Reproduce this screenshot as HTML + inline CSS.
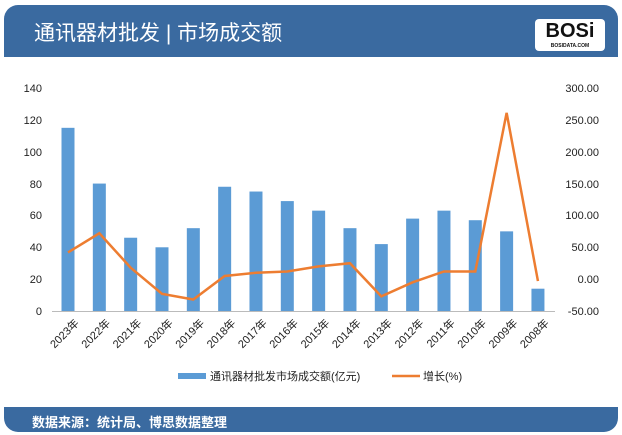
<!DOCTYPE html>
<html><head><meta charset="utf-8"><style>
body{margin:0;width:622px;height:435px;background:#fff;overflow:hidden;font-family:"Liberation Sans","Noto Sans CJK SC",sans-serif}
.card{position:absolute;left:4px;top:5px;width:614px;height:427px;border-radius:14px;background:#3a6aa0;overflow:hidden}
.inner{position:absolute;left:0;top:52px;width:614px;height:350px;background:#fff}
.t{position:absolute;left:30px;top:12px;color:#fff;font-size:21px}
.f{position:absolute;left:28px;top:407px;color:#fff;font-size:13px;font-weight:bold}
.logo{position:absolute;left:531px;top:14px;width:70px;height:32px;background:#fff;border-radius:4px;font-weight:bold;font-size:20px;text-align:center;line-height:24px;color:#111}
.logo span{display:block;font-size:5px;line-height:6px}
</style></head><body>
<div class="card"><div class="inner"></div>
<div class="t">通讯器材批发 | 市场成交额</div>
<div class="logo">BOSi<span>BOSIDATA.COM</span></div>
<div class="f">数据来源：统计局、博思数据整理</div></div>
<svg width="622" height="435" style="position:absolute;left:0;top:0" font-family="Liberation Sans, Noto Sans CJK SC, sans-serif">
<g font-size="11" fill="#222" text-anchor="end">
<text x="42" y="315">0</text><text x="42" y="283">20</text><text x="42" y="251">40</text><text x="42" y="219">60</text><text x="42" y="188">80</text><text x="42" y="156">100</text><text x="42" y="124">120</text><text x="42" y="92">140</text>
</g>
<g font-size="11" fill="#222" text-anchor="end">
<text x="599" y="315">-50.00</text><text x="599" y="283">0.00</text><text x="599" y="251">50.00</text><text x="599" y="219">100.00</text><text x="599" y="188">150.00</text><text x="599" y="156">200.00</text><text x="599" y="124">250.00</text><text x="599" y="92">300.00</text>
</g>
<line x1="52" y1="311.5" x2="555" y2="311.5" stroke="#bbb"/>
<g fill="#5b9bd5" id="bars"></g>
<polyline id="ln" fill="none" stroke="#ed7d31" stroke-width="2.5"/>
<g id="xl" font-size="11" fill="#222"></g>
<rect x="178" y="373" width="28" height="6" fill="#5b9bd5"/>
<text x="210" y="380" font-size="11" fill="#222">通讯器材批发市场成交额(亿元)</text>
<line x1="392" y1="376" x2="420" y2="376" stroke="#ed7d31" stroke-width="2.5"/>
<text x="423" y="380" font-size="11" fill="#222">增长(%)</text>
</svg>
<script>
var b=[115,80,46,40,52,78,75,69,63,52,42,58,63,57,50,14];
var g=[42,72,18,-23,-32,5,10,12,20,25,-27,-5,12,12,261,-3];
var yrs=[2023,2022,2021,2020,2019,2018,2017,2016,2015,2014,2013,2012,2011,2010,2009,2008];
var bs="",pts="",xl="";
for(var i=0;i<16;i++){var x=68+i*31.33;var h=b[i]*223/140;
bs+='<rect x="'+(x-6.5)+'" y="'+(311-h)+'" width="13" height="'+h+'"/>';
pts+=x+','+(311-(g[i]+50)*223/350)+' ';
xl+='<text transform="translate('+(x+6)+',318) rotate(-45)" text-anchor="end" dy="8">'+yrs[i]+'年</text>';}
document.getElementById('bars').innerHTML=bs;
document.getElementById('ln').setAttribute('points',pts);
document.getElementById('xl').innerHTML=xl;
</script>
</body></html>
